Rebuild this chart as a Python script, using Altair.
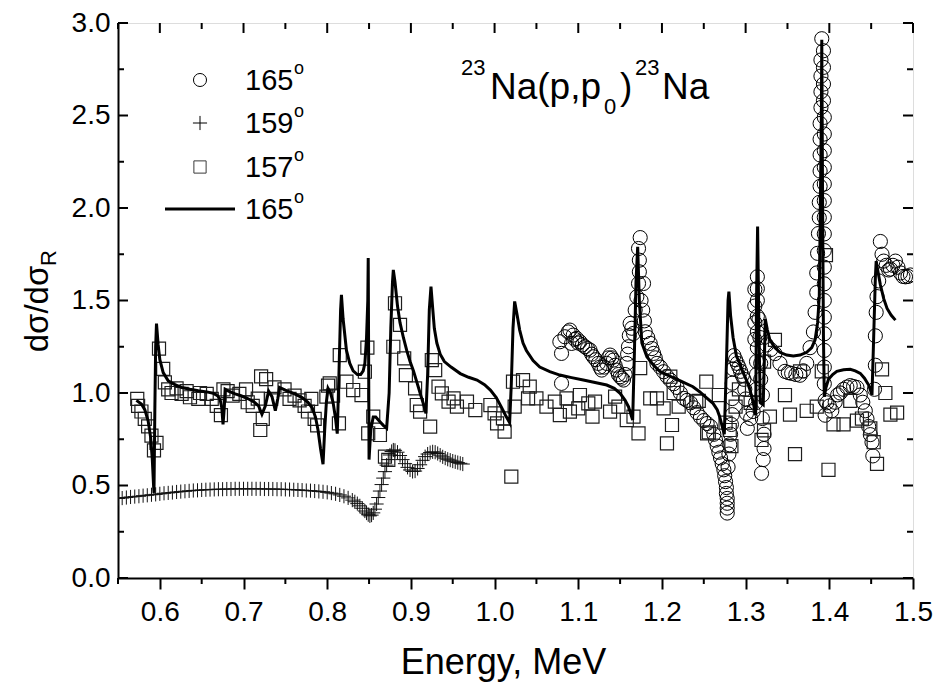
import altair as alt
import pandas as pd

# ---------------- data ----------------
# theory curve, 165 deg
line_e = [0.572, 0.578, 0.582, 0.586, 0.589, 0.591, 0.5925, 0.593, 0.594, 0.595, 0.596, 0.598, 0.600, 0.604,
          0.610, 0.618, 0.626, 0.636, 0.646, 0.656, 0.664, 0.669, 0.672, 0.674, 0.6755, 0.677, 0.678, 0.682,
          0.690, 0.697, 0.705, 0.713, 0.718, 0.722, 0.726, 0.730, 0.734, 0.738, 0.741, 0.743, 0.750, 0.761,
          0.770, 0.777, 0.782, 0.786, 0.789, 0.792, 0.795, 0.797, 0.799, 0.801, 0.804, 0.807, 0.810, 0.812,
          0.814, 0.816, 0.817, 0.819, 0.823, 0.827, 0.831, 0.836, 0.840, 0.843, 0.845, 0.847, 0.8485, 0.849,
          0.8495, 0.850, 0.852, 0.855, 0.858, 0.863, 0.867, 0.871, 0.874, 0.876, 0.878, 0.879, 0.881, 0.884,
          0.887, 0.891, 0.895, 0.899, 0.903, 0.907, 0.911, 0.915, 0.918, 0.920, 0.922, 0.924, 0.926, 0.928,
          0.931, 0.935, 0.940, 0.948, 0.959, 0.969, 0.979, 0.988, 0.995, 1.002, 1.008, 1.013, 1.018, 1.020,
          1.022, 1.024, 1.027, 1.030, 1.034, 1.038, 1.046, 1.054, 1.066, 1.078, 1.092, 1.106, 1.120, 1.134,
          1.143, 1.150, 1.156, 1.160, 1.165, 1.167, 1.169, 1.171, 1.173, 1.176, 1.182, 1.190, 1.198, 1.210,
          1.222, 1.237, 1.245, 1.253, 1.261, 1.266, 1.269, 1.272, 1.2745, 1.277, 1.279, 1.280, 1.282, 1.285,
          1.289, 1.293, 1.297, 1.301, 1.305, 1.309, 1.312, 1.313, 1.3143, 1.316, 1.3175, 1.321, 1.3225, 1.3235,
          1.326, 1.329, 1.335, 1.341, 1.349, 1.357, 1.365, 1.373, 1.379, 1.383, 1.386, 1.388, 1.389, 1.3905,
          1.391, 1.392, 1.393, 1.394, 1.396, 1.399, 1.404, 1.409, 1.417, 1.425, 1.431, 1.437, 1.442, 1.447,
          1.451, 1.453, 1.455, 1.456, 1.458, 1.461, 1.465, 1.469, 1.474, 1.479]
line_v = [0.96, 0.94, 0.91, 0.85, 0.76, 0.64, 0.50, 0.46, 0.90, 1.25, 1.375, 1.26, 1.18, 1.11,
          1.066, 1.045, 1.03, 1.02, 1.012, 1.006, 0.998, 0.985, 0.965, 0.92, 0.83, 0.92, 1.02, 1.01,
          0.995, 0.985, 0.97, 0.95, 0.93, 0.885, 0.93, 1.01, 0.98, 0.905, 0.97, 1.03, 1.015, 0.995,
          0.975, 0.95, 0.92, 0.87, 0.80, 0.70, 0.615, 0.80, 0.95, 1.025, 1.0, 0.95, 0.86, 0.78,
          1.10, 1.45, 1.53, 1.40, 1.23, 1.16, 1.12, 1.10, 1.10, 1.12, 1.16, 1.30, 1.50, 1.73,
          1.20, 0.64, 0.80, 0.87, 0.87, 0.845, 0.825, 0.81, 1.0, 1.35, 1.60, 1.665, 1.60, 1.47,
          1.38, 1.30, 1.23, 1.17, 1.12, 1.06, 1.0, 0.94, 0.89, 1.10, 1.45, 1.575, 1.46, 1.35,
          1.27, 1.21, 1.17, 1.14, 1.105, 1.085, 1.07, 1.045, 1.016, 0.975, 0.925, 0.88, 0.84, 1.05,
          1.35, 1.495, 1.42, 1.34, 1.27, 1.23, 1.175, 1.14, 1.115, 1.097, 1.083, 1.07, 1.057, 1.043,
          1.025, 0.998, 0.96, 0.926, 0.854, 1.2, 1.6, 1.79, 1.50, 1.27, 1.196, 1.15, 1.115, 1.09,
          1.065, 1.034, 1.007, 0.975, 0.944, 0.91, 0.872, 0.82, 0.777, 1.15, 1.50, 1.548, 1.42, 1.30,
          1.20, 1.16, 1.11, 1.07, 1.02, 0.95, 0.88, 1.5, 1.90, 1.3, 0.947, 0.936, 1.2, 1.40,
          1.34, 1.287, 1.245, 1.22, 1.205, 1.20, 1.205, 1.22, 1.245, 1.287, 1.38, 1.52, 1.9, 2.5,
          2.91, 2.0, 1.3, 0.98, 1.03, 1.074, 1.10, 1.117, 1.126, 1.128, 1.12, 1.106, 1.08, 1.043,
          0.99, 1.3, 1.62, 1.713, 1.66, 1.585, 1.51, 1.457, 1.42, 1.394]

# 157 deg, squares
sq_e = [0.573, 0.574, 0.578, 0.582, 0.586, 0.590, 0.593, 0.596, 0.599, 0.604, 0.606, 0.610, 0.614, 0.620,
        0.626, 0.632, 0.636, 0.646, 0.648, 0.656, 0.662, 0.668, 0.673, 0.676, 0.681, 0.687, 0.695, 0.703,
        0.705, 0.711, 0.717, 0.720, 0.721, 0.723, 0.727, 0.733, 0.737, 0.749, 0.755, 0.761, 0.767, 0.773,
        0.777, 0.781, 0.785, 0.788, 0.799, 0.801, 0.803, 0.807, 0.814, 0.815, 0.823, 0.831, 0.841, 0.845,
        0.848, 0.849, 0.855, 0.863, 0.869, 0.873, 0.879, 0.881, 0.887, 0.892, 0.894, 0.905, 0.907, 0.911,
        0.923, 0.925, 0.929, 0.933, 0.937, 0.945, 0.951, 0.955, 0.967, 0.977, 0.995, 1.000, 1.003, 1.010,
        1.012, 1.020, 1.022, 1.024, 1.034, 1.040, 1.042, 1.050, 1.062, 1.072, 1.078, 1.086, 1.090, 1.100,
        1.102, 1.112, 1.117, 1.120, 1.138, 1.144, 1.148, 1.158, 1.166, 1.172, 1.174, 1.186, 1.194, 1.202,
        1.206, 1.210, 1.212, 1.214, 1.220, 1.241, 1.244, 1.253, 1.254, 1.256, 1.268, 1.276, 1.281, 1.283,
        1.288, 1.292, 1.306, 1.319, 1.322, 1.322, 1.329, 1.335, 1.347, 1.353, 1.359, 1.365, 1.373, 1.385,
        1.391, 1.396, 1.399, 1.405, 1.417, 1.425, 1.433, 1.439, 1.449, 1.453, 1.457, 1.463, 1.467, 1.473,
        1.481]
sq_v = [0.968, 0.93, 0.90, 0.86, 0.82, 0.77, 0.69, 0.73, 1.24, 1.13, 1.057, 1.02, 1.0, 1.025,
        0.995, 1.01, 0.977, 0.968, 1.0, 0.995, 0.968, 0.93, 0.88, 1.02, 1.01, 0.986, 0.995, 1.02,
        0.95, 0.93, 0.97, 0.80, 1.09, 0.86, 1.075, 0.968, 1.03, 1.02, 0.968, 0.986, 0.96, 0.93,
        0.90, 0.968, 0.86, 0.825, 0.98, 1.04, 1.052, 0.986, 0.836, 1.205, 1.061, 1.016, 0.989, 1.115,
        1.245, 0.782, 0.872, 0.773, 0.656, 0.638, 1.25, 1.485, 1.368, 1.187, 1.097, 1.025, 0.935, 0.899,
        0.818, 1.178, 1.124, 1.034, 0.998, 0.953, 0.971, 0.926, 0.953, 0.908, 0.935, 0.89, 0.836, 0.863,
        0.791, 0.548, 1.061, 0.926, 1.07, 0.971, 1.034, 0.971, 0.926, 0.953, 0.881, 0.971, 0.899, 0.917,
        0.989, 0.944, 0.872, 0.953, 0.899, 0.98, 0.926, 0.854, 0.872, 0.782, 1.135, 0.971, 0.971, 0.917,
        0.728, 1.088, 0.827, 1.0, 0.926, 0.953, 0.957, 1.061, 0.782, 0.787, 0.989, 0.84, 0.80, 0.713,
        0.926, 1.02, 0.947, 0.746, 1.17, 0.798, 0.872, 1.287, 0.989, 0.883, 0.67, 1.117, 0.904, 0.926,
        1.117, 1.745, 0.585, 0.83, 0.83, 0.957, 0.851, 0.862, 0.809, 0.734, 0.617, 1.128, 1.0, 0.883,
        0.894]

# 165 deg, circles
ci_e = [1.078, 1.080, 1.080, 1.084, 1.088, 1.090, 1.092, 1.094, 1.096, 1.098, 1.100, 1.102, 1.105, 1.108,
        1.111, 1.114, 1.116, 1.118, 1.121, 1.124, 1.126, 1.128, 1.131, 1.134, 1.136, 1.138, 1.140, 1.142,
        1.144, 1.146, 1.148, 1.150, 1.152, 1.154, 1.156, 1.158, 1.159, 1.160, 1.161, 1.162, 1.164, 1.166,
        1.168, 1.170, 1.172, 1.172, 1.173, 1.173, 1.174, 1.175, 1.177, 1.178, 1.179, 1.180, 1.183, 1.186,
        1.188, 1.190, 1.192, 1.194, 1.198, 1.202, 1.206, 1.210, 1.214, 1.218, 1.222, 1.226, 1.230, 1.234,
        1.238, 1.242, 1.246, 1.250, 1.254, 1.258, 1.262, 1.264, 1.266, 1.268, 1.270, 1.272, 1.274, 1.275,
        1.276, 1.277, 1.277, 1.278, 1.278, 1.278, 1.278, 1.279, 1.280, 1.281, 1.282, 1.283, 1.284, 1.284,
        1.284, 1.285, 1.286, 1.288, 1.290, 1.292, 1.294, 1.296, 1.298, 1.299, 1.300, 1.301, 1.302, 1.306,
        1.309, 1.311, 1.311, 1.311, 1.311, 1.312, 1.313, 1.313, 1.313, 1.314, 1.314, 1.314, 1.314, 1.314,
        1.314, 1.316, 1.317, 1.318, 1.318, 1.319, 1.320, 1.320, 1.321, 1.322, 1.322, 1.325, 1.330, 1.335,
        1.341, 1.347, 1.351, 1.355, 1.360, 1.365, 1.369, 1.373, 1.377, 1.381, 1.383, 1.385, 1.385, 1.386,
        1.387, 1.388, 1.388, 1.389, 1.389, 1.389, 1.389, 1.389, 1.390, 1.390, 1.390, 1.390, 1.391, 1.393,
        1.393, 1.393, 1.393, 1.394, 1.394, 1.394, 1.394, 1.394, 1.394, 1.394, 1.394, 1.394, 1.394, 1.394,
        1.394, 1.394, 1.394, 1.394, 1.394, 1.394, 1.395, 1.395, 1.397, 1.400, 1.403, 1.407, 1.410, 1.413,
        1.417, 1.421, 1.425, 1.429, 1.433, 1.437, 1.440, 1.443, 1.445, 1.447, 1.449, 1.451, 1.452, 1.454,
        1.455, 1.455, 1.456, 1.457, 1.459, 1.461, 1.463, 1.465, 1.468, 1.471, 1.473, 1.476, 1.479, 1.482,
        1.485, 1.488, 1.491, 1.494, 1.497]
ci_v = [1.277, 1.052, 1.214, 1.304, 1.33, 1.34, 1.268, 1.313, 1.29, 1.295, 1.27, 1.277, 1.26, 1.25,
        1.24, 1.232, 1.21, 1.196, 1.18, 1.16, 1.14, 1.124, 1.14, 1.16, 1.19, 1.205, 1.19, 1.178,
        1.15, 1.124, 1.10, 1.088, 1.08, 1.07, 1.10, 1.16, 1.21, 1.25, 1.31, 1.376, 1.35, 1.322,
        1.448, 1.52, 1.592, 1.781, 1.718, 1.655, 1.84, 1.50, 1.448, 1.592, 1.39, 1.331, 1.30, 1.268,
        1.24, 1.214, 1.19, 1.16, 1.14, 1.115, 1.09, 1.07, 1.05, 1.03, 1.0, 0.971, 0.96, 0.947,
        0.92, 0.894, 0.87, 0.851, 0.835, 0.819, 0.777, 0.745, 0.713, 0.68, 0.649, 0.617, 0.585, 0.553,
        0.521, 0.489, 0.457, 0.43, 0.404, 0.378, 0.351, 0.60, 0.67, 0.72, 0.777, 0.83, 0.883, 0.97,
        1.053, 1.13, 1.202, 1.18, 1.16, 1.14, 1.117, 1.095, 1.074, 1.02, 0.968, 0.89, 0.809, 0.862,
        0.90, 1.29, 1.38, 1.47, 1.56, 0.947, 1.02, 1.10, 1.17, 1.245, 1.33, 1.415, 1.5, 1.564,
        1.628, 1.40, 1.30, 1.16, 1.074, 0.566, 0.989, 0.862, 0.64, 0.777, 0.70, 1.26, 1.235, 1.213,
        1.16, 1.117, 1.11, 1.106, 1.10, 1.096, 1.12, 1.16, 1.245, 1.33, 1.436, 1.543, 1.649, 1.755,
        1.862, 1.947, 2.03, 2.117, 2.2, 2.287, 2.372, 2.457, 2.543, 2.628, 2.713, 2.80, 2.915, 2.85,
        2.76, 2.67, 2.58, 2.49, 2.40, 2.31, 2.22, 2.13, 2.04, 1.95, 1.86, 1.77, 1.68, 1.59,
        1.50, 1.41, 1.32, 1.23, 1.14, 1.05, 0.96, 0.88, 0.947, 0.93, 0.904, 0.95, 0.99, 1.0,
        1.02, 1.032, 1.04, 1.035, 1.03, 0.989, 0.95, 0.904, 0.86, 0.819, 0.775, 0.734, 0.66, 1.02,
        1.15, 1.309, 1.436, 1.521, 1.606, 1.819, 1.75, 1.713, 1.69, 1.665, 1.67, 1.69, 1.713, 1.68,
        1.649, 1.63, 1.628, 1.63, 1.638]

# 159 deg, plus signs
pl_e = [0.550, 0.555, 0.560, 0.565, 0.570, 0.575, 0.580, 0.585, 0.590, 0.595, 0.600, 0.605, 0.610, 0.615,
        0.620, 0.625, 0.630, 0.635, 0.640, 0.645, 0.650, 0.655, 0.660, 0.665, 0.670, 0.675, 0.680, 0.685,
        0.690, 0.695, 0.700, 0.705, 0.710, 0.715, 0.720, 0.725, 0.730, 0.735, 0.740, 0.745, 0.750, 0.755,
        0.760, 0.765, 0.770, 0.775, 0.780, 0.785, 0.790, 0.795, 0.800, 0.805, 0.810, 0.815, 0.820, 0.825,
        0.830, 0.833, 0.836, 0.839, 0.842, 0.845, 0.847, 0.849, 0.851, 0.853, 0.855, 0.857, 0.859, 0.861,
        0.863, 0.865, 0.867, 0.869, 0.871, 0.873, 0.875, 0.877, 0.879, 0.881, 0.884, 0.887, 0.890, 0.893,
        0.896, 0.899, 0.902, 0.905, 0.908, 0.911, 0.914, 0.917, 0.920, 0.923, 0.926, 0.929, 0.932, 0.935,
        0.938, 0.941, 0.944, 0.947, 0.950, 0.953, 0.956, 0.959, 0.962]
pl_v = [0.430, 0.432, 0.435, 0.438, 0.440, 0.442, 0.445, 0.447, 0.450, 0.452, 0.455, 0.458, 0.460, 0.462,
        0.465, 0.467, 0.469, 0.471, 0.473, 0.474, 0.476, 0.477, 0.478, 0.479, 0.480, 0.480, 0.481, 0.481,
        0.482, 0.482, 0.482, 0.482, 0.482, 0.482, 0.482, 0.481, 0.481, 0.481, 0.480, 0.480, 0.479, 0.478,
        0.477, 0.476, 0.475, 0.473, 0.472, 0.470, 0.468, 0.466, 0.463, 0.459, 0.455, 0.449, 0.442, 0.433,
        0.421, 0.412, 0.402, 0.390, 0.377, 0.362, 0.351, 0.342, 0.336, 0.340, 0.352, 0.372, 0.400, 0.435,
        0.470, 0.505, 0.540, 0.575, 0.610, 0.640, 0.665, 0.684, 0.692, 0.690, 0.680, 0.662, 0.640, 0.618,
        0.598, 0.584, 0.576, 0.578, 0.592, 0.612, 0.636, 0.656, 0.670, 0.678, 0.682, 0.680, 0.673, 0.664,
        0.655, 0.648, 0.642, 0.637, 0.632, 0.628, 0.624, 0.620, 0.616]

x_major = [0.6, 0.7, 0.8, 0.9, 1.0, 1.1, 1.2, 1.3, 1.4, 1.5]
x_minor = [0.55, 0.65, 0.75, 0.85, 0.95, 1.05, 1.15, 1.25, 1.35, 1.45]
y_major = [0.0, 0.5, 1.0, 1.5, 2.0, 2.5, 3.0]
y_minor = [0.25, 0.75, 1.25, 1.75, 2.25, 2.75]
legend_labels = ["165", "159", "157", "165"]

# ---------------- layout ----------------
W, H = 795, 555
FONT = "Liberation Sans"
xs = alt.Scale(domain=[0.55, 1.5], nice=False, zero=False)
ys = alt.Scale(domain=[0.0, 3.0], nice=False, zero=False)
XAX = alt.Axis(values=x_major, format=".1f", tickSize=11, tickWidth=2, tickColor="black",
               domainColor="black", domainWidth=2, labelFont=FONT, labelFontSize=28, labelColor="black",
               labelPadding=9, grid=False, title="Energy, MeV", titleFont=FONT, titleFontSize=36,
               titleFontWeight="normal", titleColor="black", titleX=385, titleY=95,
               titleAlign="center", titleBaseline="alphabetic", labelFlush=False)
YAX = alt.Axis(values=y_major, format=".1f", ticks=False, domainColor="black", domainWidth=2,
               labelFont=FONT, labelFontSize=28, labelColor="black", labelPadding=8, grid=False,
               title=None, labelFlush=False)

df_line = pd.DataFrame({"e": line_e, "v": line_v, "i": list(range(len(line_e)))})
df_sq = pd.DataFrame({"e": sq_e, "v": sq_v})
df_ci = pd.DataFrame({"e": ci_e, "v": ci_v})
df_pl = pd.DataFrame({"e": pl_e, "v": pl_v})

def xy():
    return dict(x=alt.X("e:Q", scale=xs, axis=XAX), y=alt.Y("v:Q", scale=ys, axis=YAX))

PLUS = "M-1,0H1M0,-1V1"

circles = alt.Chart(df_ci).mark_point(shape="circle", filled=False, size=200, color="black",
                                      strokeWidth=1, opacity=1, clip=True).encode(**xy())
squares = alt.Chart(df_sq).mark_point(shape="square", filled=False, size=170, color="#1e1e1e",
                                      strokeWidth=1.2, opacity=1, clip=True).encode(**xy())
pluses = alt.Chart(df_pl).mark_point(shape=PLUS, filled=False, size=200, color="#111",
                                     strokeWidth=1, opacity=1, clip=True).encode(**xy())
theory = alt.Chart(df_line).mark_line(color="black", strokeWidth=3, clip=True).encode(
    order="i:Q", **xy())

# inward ticks (left, right, top) and outward minor ticks (bottom)
dyM = pd.DataFrame({"v": y_major})
dym = pd.DataFrame({"v": y_minor})
dxM = pd.DataFrame({"e": x_major})
dxm = pd.DataFrame({"e": x_minor})
yenc = alt.Y("v:Q", scale=ys, axis=YAX)
xenc = alt.X("e:Q", scale=xs, axis=XAX)
tick_layers = [
    alt.Chart(dyM).mark_rule(color="black", strokeWidth=2).encode(y=yenc, x=alt.value(0), x2=alt.value(10)),
    alt.Chart(dym).mark_rule(color="black", strokeWidth=2).encode(y=yenc, x=alt.value(0), x2=alt.value(6)),
    alt.Chart(dyM).mark_rule(color="black", strokeWidth=2).encode(y=yenc, x=alt.value(W - 10), x2=alt.value(W)),
    alt.Chart(dym).mark_rule(color="black", strokeWidth=2).encode(y=yenc, x=alt.value(W - 6), x2=alt.value(W)),
    alt.Chart(dxM).mark_rule(color="black", strokeWidth=2).encode(x=xenc, y=alt.value(0), y2=alt.value(10)),
    alt.Chart(dxm).mark_rule(color="black", strokeWidth=2).encode(x=xenc, y=alt.value(0), y2=alt.value(6)),
    alt.Chart(dxm).mark_rule(color="black", strokeWidth=2).encode(x=xenc, y=alt.value(H), y2=alt.value(H + 6)),
]

one = pd.DataFrame({"k": [0]})

def txt(s, x, y, size, angle=0, align="left", baseline="alphabetic"):
    return alt.Chart(one).mark_text(x=x, y=y, fontSize=size, font=FONT, angle=angle, align=align,
                                    baseline=baseline, color="black").encode(text=alt.value(s))

def sym(shape, x, y, size, color):
    return alt.Chart(one).mark_point(shape=shape, filled=False, size=size, color=color, strokeWidth=1,
                                     x=x, y=y).encode(opacity=alt.value(1))

# legend
LX, LT = 82, 127
rows = [57, 100, 144, 186]
LFS = 29
legend = [
    sym("circle", LX, rows[0], 170, "black"),
    sym(PLUS, LX, rows[1], 200, "black"),
    sym("square", LX, rows[2], 150, "#3a3a3a"),
    alt.Chart(one).mark_rule(color="black", strokeWidth=3).encode(
        x=alt.value(47), x2=alt.value(117), y=alt.value(rows[3])),
]
for r, lab in zip(rows, legend_labels):
    legend.append(txt(lab, LT, r + 10, LFS))
    legend.append(txt("o", LT + 49, r - 6, 18))

# reaction label 23Na(p,p0)23Na
AF, SF = 37, 22
by = 75.5
annot = [
    txt("23", 343, 52, SF),
    txt("Na(p,p", 372, by, AF),
    txt("0", 486, 90.5, SF),
    txt(")", 502, by, AF),
    txt("23", 517, 52, SF),
    txt("Na", 544, by, AF),
]

# y title d sigma / d sigma_R
ytitle = [
    txt("dσ/dσ", -80, 286, 33, angle=270, align="center", baseline="middle"),
    txt("R", -69, 243, 22, angle=270, align="left", baseline="middle"),
]

chart = alt.layer(
    circles, squares, pluses, theory, *tick_layers, *legend, *annot, *ytitle
).properties(
    width=W, height=H,
    autosize=alt.AutoSizeParams(type="none"),
    padding={"left": 118, "top": 23, "right": 25, "bottom": 106},
).configure_view(stroke="black", strokeWidth=2).configure(background="white")

chart.save("out.html", embed_options={"renderer": "svg", "actions": False})
